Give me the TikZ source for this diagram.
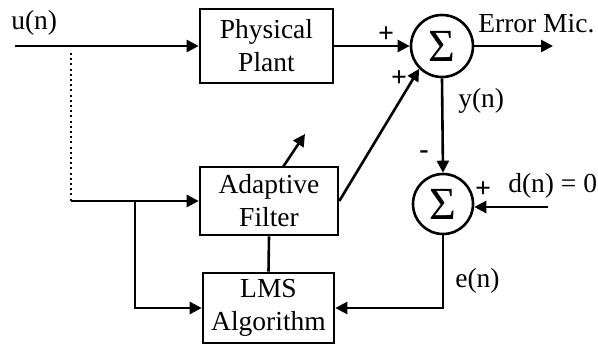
\documentclass[tikz,border=0pt]{standalone}
\usepackage{fontspec}
\setmainfont{Liberation Serif}
\usetikzlibrary{arrows.meta}
\begin{document}
\begin{tikzpicture}[x=1pt,y=-1pt,
  line width=2.6pt,
  arr/.style={-{Triangle[length=12pt,width=12pt]}},
  blk/.style={draw,line width=2.6pt,inner sep=0pt,align=center,font=\fontsize{27.5}{33}\selectfont},
  sumnode/.style={draw,circle,line width=2.6pt,inner sep=0pt,font=\fontsize{46}{46}\selectfont},
  lbl/.style={font=\fontsize{27.5}{30}\selectfont,inner sep=0pt},
  sgn/.style={font=\fontsize{28}{28}\selectfont\bfseries,inner sep=0pt}]
\useasboundingbox (0,0) rectangle (598,346);
% blocks
\node[blk,minimum width=133pt,minimum height=74pt] (plant) at (266.5,46) {Physical\\Plant};
\node[blk,minimum width=138pt,minimum height=68pt] (adapt) at (269,201) {Adaptive\\Filter};
\node[blk,minimum width=131pt,minimum height=70pt] (lms) at (268.5,308) {LMS\\Algorithm};
\node[sumnode,minimum size=62pt] (s1) at (442,46) {Σ};
\node[sumnode,minimum size=60pt] (s2) at (443,204) {Σ};
% coordinates
\coordinate (uin) at (15,46);
\coordinate (dtop) at (71,53);
\coordinate (dbot) at (71,201);
\coordinate (br) at (135,201);
\coordinate (out) at (553,46);
\coordinate (din) at (548,207);
\coordinate (t1) at (283,167);
\coordinate (t2) at (305,134);
% connectors
\draw[arr] (uin) -- (plant.west);
\draw[line width=2.2pt,dash pattern=on 2pt off 3.2pt] (dtop) -- (dbot);
\draw[arr] (dbot) -- (adapt.west);
\draw[arr] (br) |- (lms.west);
\draw (adapt.south) -- (lms.north);
\draw[arr] (plant.east) -- (s1.west);
\draw[arr] (s1.east) -- (out);
\draw[arr] (adapt.east) -- (s1.south west);
\draw[arr] (t1) -- (t2);
\draw[arr] (s1.south) -- (s2.north);
\draw[arr] (din) -- (din -| s2.east);
\draw[arr] (s2.south) |- (lms.east);
% labels
\node[lbl,anchor=base west] (lu) at (10,29) {u(n)};
\node[lbl,anchor=base west] (lerr) at (477,32) {Error Mic.};
\node[lbl,anchor=base west] (ly) at (457,107) {y(n)};
\node[lbl,anchor=base west] (ld) at (507,192) {d(n) = 0};
\node[lbl,anchor=base west] (le) at (454,287) {e(n)};
\node[sgn] (p1) at (386,35) {+};
\node[sgn] (p2) at (399,79) {+};
\node[sgn] (m1) at (424,155) {-};
\node[sgn] (p3) at (483,190) {+};
\end{tikzpicture}
\end{document}
